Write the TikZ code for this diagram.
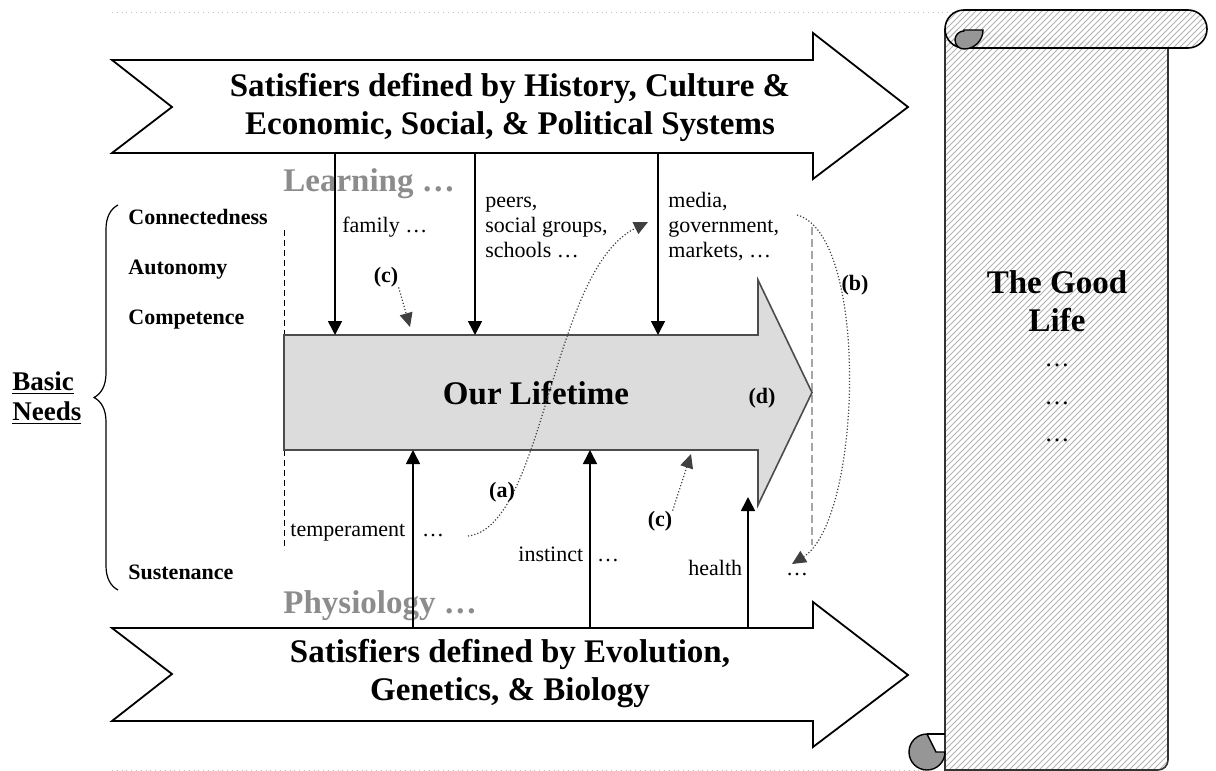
\documentclass[tikz,border=0pt]{standalone}
\usepackage{fontspec}
\setmainfont{Liberation Serif}
\usetikzlibrary{positioning,arrows.meta,patterns,decorations.pathreplacing}

\definecolor{learngray}{RGB}{140,140,140}
\definecolor{lifegray}{RGB}{220,220,220}
\definecolor{curlgray}{RGB}{150,150,150}

\tikzstyle{bigtext}   = [font=\fontsize{16.5}{19}\selectfont\bfseries, align=center, inner sep=0pt]
\tikzstyle{smalltext} = [font=\fontsize{11}{12.5}\selectfont, anchor=base west, inner sep=0pt]
\tikzstyle{dots}      = [font=\fontsize{11}{12.5}\selectfont, anchor=base, inner sep=0pt]
\tikzstyle{needtext}  = [font=\fontsize{11}{12.5}\selectfont\bfseries, anchor=base west, inner sep=0pt]
\tikzstyle{tagtext}   = [font=\fontsize{11}{12.5}\selectfont\bfseries, inner sep=0pt]
\tikzstyle{banner}    = [line width=0.9pt, fill=white, line join=miter]
\tikzstyle{push}      = [line width=0.8pt, -{Triangle[length=7pt,width=7pt]}]
\tikzstyle{link}      = [densely dotted, line width=0.6pt, black!75, -{Triangle[length=7pt,width=6.5pt]}]
\tikzstyle{hatch}     = [pattern=north east lines, pattern color=gray!60]

\begin{document}
\begin{tikzpicture}[x=0.5pt, y=-0.5pt]
    \useasboundingbox (0,0) rectangle (1216,771);

    \draw[gray!50, dotted] (112,12) -- (965,12);
    \draw[gray!50, dotted] (112,770) -- (927,770);

    % the two banners
    \draw[banner] (112,60) -- (813,60) -- (813,33) -- (908,107) -- (813,179) -- (813,153) -- (112,153) -- (172,107) -- cycle;
    \draw[banner] (112,628) -- (813,628) -- (813,602) -- (908,675) -- (813,747) -- (813,721) -- (112,721) -- (172,674) -- cycle;
    \node[bigtext] (culture) at (510,107) {Satisfiers defined by History, Culture \&\\Economic, Social, \& Political Systems};
    \node[bigtext] (biology) at (510,674) {Satisfiers defined by Evolution,\\Genetics, \& Biology};

    % lifetime
    \draw[dash pattern=on 3pt off 2pt, line width=0.5pt] (284,230) -- (284,550);
    \draw[gray!70, dash pattern=on 4pt off 2pt, line width=0.7pt] (812,227) -- (812,545);
    \draw[line width=0.8pt, draw=black!70, fill=lifegray, line join=miter] (284,335) -- (758,335) -- (758,280) -- (812,392.5) -- (758,505) -- (758,450) -- (284,450) -- cycle;
    \node[bigtext] (lifetime) at (536,393) {Our Lifetime};
    \node[tagtext] (d) at (762,398) {(d)};

    \node[bigtext, text=learngray, anchor=base west] (learning) at (283,191) {Learning …};
    \node[bigtext, text=learngray, anchor=base west] (physiology) at (283,613) {Physiology …};

    \node[smalltext] (family) at (342,232) {family …};
    \node[smalltext] (peers) at (485,207) {peers,};
    \node[smalltext] (social) at (485,232) {social groups,};
    \node[smalltext] (schools) at (485,257) {schools …};
    \node[smalltext] (media) at (668,207) {media,};
    \node[smalltext] (government) at (668,232) {government,};
    \node[smalltext] (markets) at (668,257) {markets, …};

    \node[smalltext] (temperament) at (290,536) {temperament};
    \node[dots] (temperdots) at (433,536) {…};
    \node[smalltext] (instinct) at (518,561) {instinct};
    \node[dots] (instinctdots) at (608,561) {…};
    \node[smalltext] (health) at (688,575) {health};
    \node[dots] (healthdots) at (797,575) {…};

    \foreach \x/\n in {335/fam,475/peer,658/med} {
        \coordinate (\n-from) at (\x,153);
        \coordinate (\n-to) at (\x,335);
        \draw[push] (\n-from) -- (\n-to);
    }
    \foreach \x/\n/\y in {413/temp/450,590/inst/450,748/heal/497} {
        \coordinate (\n-from) at (\x,628);
        \coordinate (\n-to) at (\x,\y);
        \draw[push] (\n-from) -- (\n-to);
    }

    % dotted links
    \coordinate (a-from) at (468,536);
    \coordinate (a-to) at (648,222);
    \draw[link] (a-from) .. controls (545,527) and (550,270) .. (a-to);
    \node[tagtext] (a) at (502,492) {(a)};

    \coordinate (b-from) at (797,215);
    \coordinate (b-to) at (792,564);
    \draw[link] (b-from) .. controls (870,235) and (862,520) .. (b-to);
    \node[tagtext] (b) at (855,285) {(b)};

    \node[tagtext] (c-up) at (386,277) {(c)};
    \coordinate (c-up-to) at (410,327);
    \draw[link] (c-up.south east) -- (c-up-to);
    \node[tagtext] (c-low) at (660,521) {(c)};
    \coordinate (c-low-to) at (691,454);
    \draw[link] (c-low.north east) -- (c-low-to);

    % basic needs
    \draw[decorate, decoration={brace, amplitude=12pt, aspect=0.5}, line width=0.6pt] (118,590) -- (118,205);
    \node[font=\fontsize{13.5}{14}\selectfont\bfseries, anchor=base west, inner sep=0pt] (basic) at (12,390) {\underline{Basic}};
    \node[font=\fontsize{13.5}{14}\selectfont\bfseries, anchor=base west, inner sep=0pt] (needs) at (12,420) {\underline{Needs}};
    \node[needtext] (connect) at (128,224) {Connectedness};
    \node[needtext] (autonomy) at (128,274) {Autonomy};
    \node[needtext] (compete) at (128,324) {Competence};
    \node[needtext] (sustain) at (128,579) {Sustenance};

    % scroll
    \draw[hatch, draw=black!80, line width=0.8pt] (945,29) -- (945,770) [rounded corners=5pt] -- (1168,770) [sharp corners] -- (1168,48);
    \draw[fill=curlgray, line width=0.7pt] (936,752) -- (945,752) arc (0:270:18) -- cycle;
    \draw[line width=0.7pt] (927,734) -- (945,734);
    \draw[hatch, line width=0.8pt, rounded corners=9.5pt] (945,10) rectangle (1207,48);
    \draw[fill=curlgray, line width=0.7pt] (964,30) -- (983,30) arc (0:90:19) arc (90:270:9) -- cycle;

    \node[bigtext] (goodlife) at (1057,301) {The Good\\Life};
    \node[font=\fontsize{12.5}{14}\selectfont, inner sep=0pt] (dots1) at (1057,365) {…};
    \node[font=\fontsize{12.5}{14}\selectfont, inner sep=0pt] (dots2) at (1057,403) {…};
    \node[font=\fontsize{12.5}{14}\selectfont, inner sep=0pt] (dots3) at (1057,440) {…};
\end{tikzpicture}
\end{document}
